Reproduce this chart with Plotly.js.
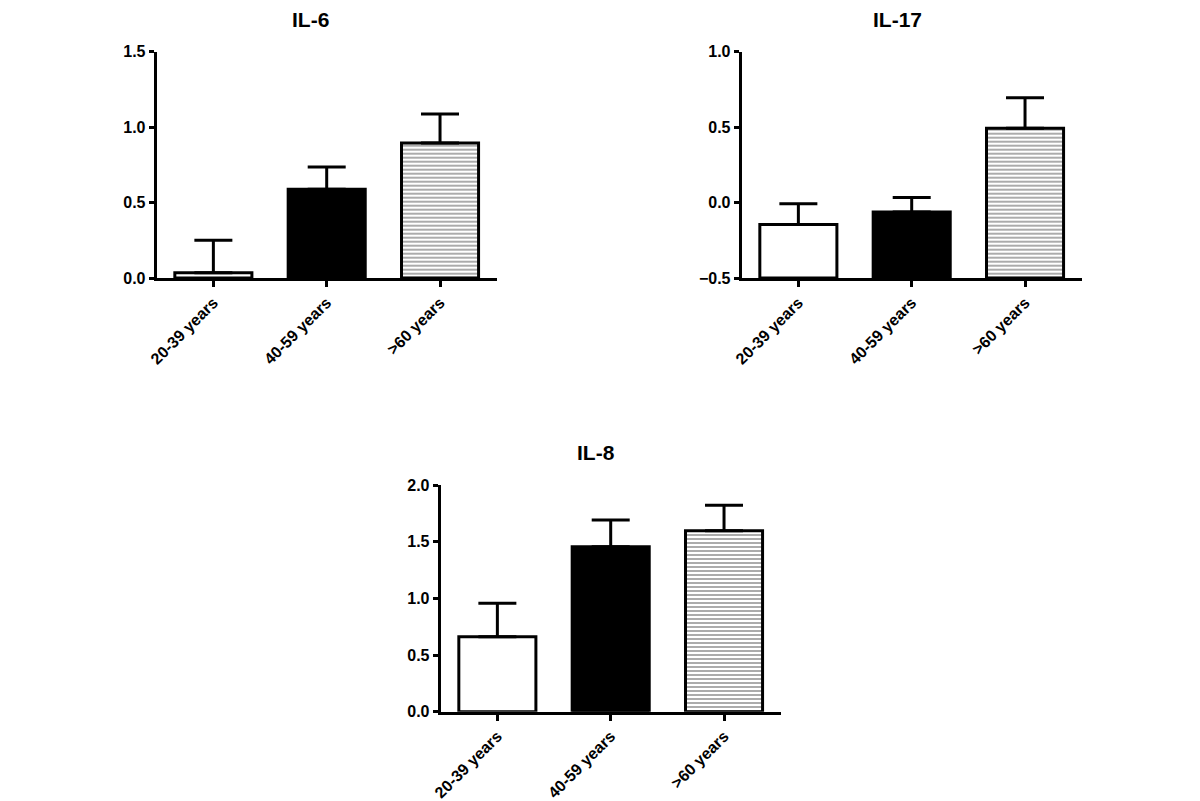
<!DOCTYPE html>
<html>
<head>
<meta charset="utf-8">
<script src="https://cdn.plot.ly/plotly-3.0.1.min.js"></script>
<style>html,body{margin:0;padding:0;background:#fff;}#chart{width:1200px;height:801px;}</style>
</head>
<body>
<div id="chart"></div>
<script>
// ---- data ----
const categories = ['20-39 years', '40-59 years', '>60 years'];
const il6Mean = [0.035, 0.588, 0.895];
const il6Err = [0.215, 0.147, 0.192];
const il17Mean = [-0.145, -0.063, 0.493];
const il17Err = [0.137, 0.097, 0.201];
const il8Mean = [0.662, 1.456, 1.597];
const il8Err = [0.295, 0.236, 0.224];
const panelTitles = ['IL-6', 'IL-17', 'IL-8'];

// ---- styles ----
const FONT = 'Arial, "Liberation Sans", sans-serif';
const fillColors = ['#ffffff', '#000000', '#ffffff'];
const patternShapes = ['', '', '-'];

function barTrace(means, errs, base, xa, ya) {
  return {
    type: 'bar',
    x: categories,
    y: means.map(v => v - base),
    base: base,
    xaxis: xa, yaxis: ya,
    width: 0.68,
    marker: {
      color: fillColors,
      line: {color: '#000', width: 3},
      pattern: {shape: patternShapes, fgcolor: '#5a5a5a', bgcolor: '#ffffff', size: 4, solidity: 0.45, fillmode: 'overlay'}
    },
    error_y: {type: 'data', array: errs, arrayminus: errs.map(() => 0), symmetric: false,
              color: '#000', thickness: 3, width: 19},
    hoverinfo: 'skip',
    showlegend: false
  };
}

const data = [
  barTrace(il6Mean, il6Err, 0, 'x', 'y'),
  barTrace(il17Mean, il17Err, -0.5, 'x2', 'y2'),
  barTrace(il8Mean, il8Err, 0, 'x3', 'y3')
];

const W = 1200, H = 801;
function xdom(left) { return [left / W, (left + 340) / W]; }
function ydom(top, bottom) { return [1 - bottom / H, 1 - top / H]; }

function xaxisCfg(left, anchor) {
  return {
    domain: xdom(left), anchor: anchor, range: [-0.5, 2.5],
    showline: true, linewidth: 3, linecolor: '#000',
    ticks: 'outside', ticklen: 6, tickwidth: 3, tickcolor: '#000',
    tickangle: -45, showgrid: false, zeroline: false,
    tickfont: {family: FONT, size: 16, color: '#000', weight: 'bold'}
  };
}
function yaxisCfg(top, bottom, range, anchor) {
  return {
    domain: ydom(top, bottom), anchor: anchor, range: range,
    dtick: 0.5, tick0: 0, tickformat: '.1f',
    showline: true, linewidth: 3, linecolor: '#000',
    ticks: 'outside', ticklen: 5, tickwidth: 3, tickcolor: '#000',
    showgrid: false, zeroline: false,
    tickfont: {family: FONT, size: 16, color: '#000', weight: 'bold'}
  };
}

const layout = {
  width: W, height: H,
  margin: {l: 0, r: 0, t: 0, b: 0},
  paper_bgcolor: '#fff', plot_bgcolor: '#fff',
  xaxis: xaxisCfg(156.7, 'y'),
  yaxis: yaxisCfg(51.7, 278, [0, 1.5], 'x'),
  xaxis2: xaxisCfg(741.7, 'y2'),
  yaxis2: yaxisCfg(51.7, 278, [-0.5, 1.0], 'x2'),
  xaxis3: xaxisCfg(440.7, 'y3'),
  yaxis3: yaxisCfg(485, 711.7, [0, 2.0], 'x3'),
  annotations: [
    {text: panelTitles[0], x: 310 / W, y: 1 - 20 / H},
    {text: panelTitles[1], x: 897 / W, y: 1 - 20 / H},
    {text: panelTitles[2], x: 596 / W, y: 1 - 452 / H}
  ].map(a => Object.assign(a, {xref: 'paper', yref: 'paper', showarrow: false,
      xanchor: 'center', yanchor: 'middle',
      font: {family: FONT, size: 21, color: '#000', weight: 'bold'}}))
};

Plotly.newPlot('chart', data, layout, {displayModeBar: false, staticPlot: true});
</script>
</body>
</html>
